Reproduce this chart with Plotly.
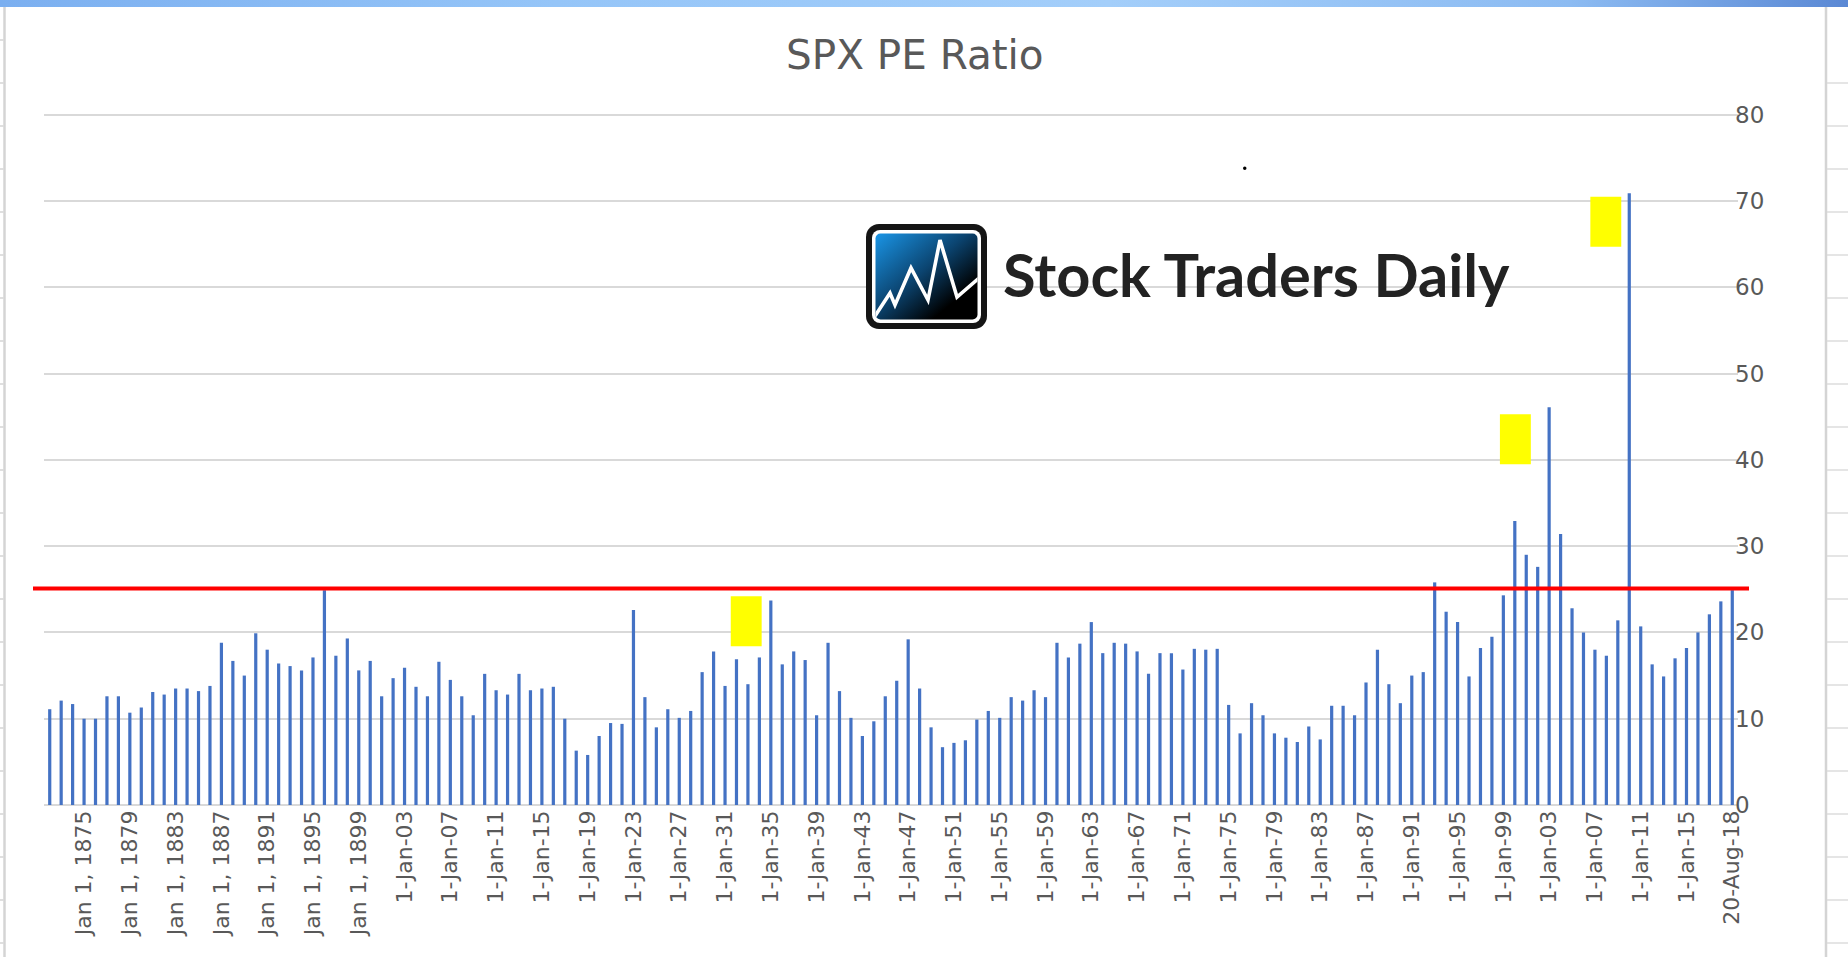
import base64
import plotly.graph_objects as go

# ---------------- data ----------------
YEARS = list(range(1872, 2019))  # Jan 1 of each year, then the Aug-2018 reading

PE_VALUES = [
    11.1, 12.1, 11.7, 10.0, 10.0, 12.6, 12.6, 10.7, 11.3, 13.1,
    12.8, 13.5, 13.5, 13.2, 13.8, 18.8, 16.7, 15.0, 19.9, 18.0,
    16.4, 16.1, 15.6, 17.1, 24.9, 17.3, 19.3, 15.6, 16.7, 12.6,
    14.7, 15.9, 13.7, 12.6, 16.6, 14.5, 12.6, 10.4, 15.2, 13.3,
    12.8, 15.2, 13.3, 13.5, 13.7, 10.0, 6.3, 5.8, 8.0, 9.5,
    9.4, 22.6, 12.5, 9.0, 11.1, 10.1, 10.9, 15.4, 17.8, 13.8,
    16.9, 14.0, 17.1, 23.7, 16.3, 17.8, 16.8, 10.4, 18.8, 13.2,
    10.1, 8.0, 9.7, 12.6, 14.4, 19.2, 13.5, 9.0, 6.7, 7.2,
    7.5, 9.9, 10.9, 10.1, 12.5, 12.1, 13.3, 12.5, 18.8, 17.1,
    18.7, 21.2, 17.6, 18.8, 18.7, 17.8, 15.2, 17.6, 17.6, 15.7,
    18.1, 18.0, 18.1, 11.6, 8.3, 11.8, 10.4, 8.3, 7.8, 7.3,
    9.1, 7.6, 11.5, 11.5, 10.4, 14.2, 18.0, 14.0, 11.8, 15.0,
    15.4, 25.8, 22.4, 21.2, 14.9, 18.2, 19.5, 24.3, 32.9, 29.0,
    27.6, 46.1, 31.4, 22.8, 20.0, 18.0, 17.3, 21.4, 70.9, 20.7,
    16.3, 14.9, 17.0, 18.2, 20.0, 22.1, 23.6, 24.9,
]

TICK_LABELS = [
    "Jan 1, 1875", "Jan 1, 1879", "Jan 1, 1883", "Jan 1, 1887", "Jan 1, 1891",
    "Jan 1, 1895", "Jan 1, 1899", "1-Jan-03", "1-Jan-07", "1-Jan-11",
    "1-Jan-15", "1-Jan-19", "1-Jan-23", "1-Jan-27", "1-Jan-31", "1-Jan-35",
    "1-Jan-39", "1-Jan-43", "1-Jan-47", "1-Jan-51", "1-Jan-55", "1-Jan-59",
    "1-Jan-63", "1-Jan-67", "1-Jan-71", "1-Jan-75", "1-Jan-79", "1-Jan-83",
    "1-Jan-87", "1-Jan-91", "1-Jan-95", "1-Jan-99", "1-Jan-03", "1-Jan-07",
    "1-Jan-11", "1-Jan-15", "20-Aug-18",
]

Y_TICKS = [0, 10, 20, 30, 40, 50, 60, 70, 80]
Y_MAX = 80.2                    # a hair above 80 so the 80 gridline is drawn
REFERENCE_LEVEL = 25.1          # red horizontal line
# highlighted boxes: (category index from, to, value from, to)
HIGHLIGHTS = [(59.5, 62.2, 18.4, 24.2), (126.7, 129.4, 39.5, 45.3), (134.6, 137.3, 64.7, 70.5)]

# category names (the tick labels are a subset of these)
CATEGORIES = [("Jan 1, %d" % y) if y < 1900 else ("1-Jan-%02d" % (y % 100)) for y in YEARS]
CATEGORIES.append("20-Aug-18")
# make duplicated 2-digit names unique (1903 vs 2003 ...) with invisible suffix
seen = {}
CAT_IDS = []
for c in CATEGORIES:
    n = seen.get(c, 0)
    seen[c] = n + 1
    CAT_IDS.append(c + ("\u200b" * n))
tick_ids = []
seen2 = {}
for lab in TICK_LABELS:
    n = seen2.get(lab, 0)
    seen2[lab] = n + 1
    tick_ids.append(lab + ("\u200b" * n))

# ---------------- geometry helpers (page pixels -> paper) ----------------
W, H = 1848, 957
L, R, T, B = 44, 1738, 113, 805


def px(p):
    return (p - L) / (R - L)


def py(p):
    return (B - p) / (B - T)


fig = go.Figure()
fig.add_trace(go.Bar(
    x=CAT_IDS, y=PE_VALUES, marker=dict(color="#4472C4", line=dict(width=0)),
    hoverinfo="x+y", showlegend=False,
))

shapes = []
# red reference line
shapes.append(dict(type="line", xref="paper", yref="y", x0=px(33), x1=px(1749),
                   y0=REFERENCE_LEVEL, y1=REFERENCE_LEVEL,
                   line=dict(color="#FF0000", width=4), layer="above"))
# yellow highlight boxes
for x0, x1, y0, y1 in HIGHLIGHTS:
    shapes.append(dict(type="rect", xref="x", yref="y", x0=x0, x1=x1, y0=y0, y1=y1,
                       fillcolor="#FFFF00", line=dict(width=0), layer="above"))
# tiny dot
shapes.append(dict(type="circle", xref="paper", yref="paper",
                   x0=px(1243), x1=px(1246.5), y0=py(170), y1=py(166.5),
                   fillcolor="#000000", line=dict(width=0)))
# spreadsheet borders around the chart
shapes.append(dict(type="line", xref="paper", yref="paper", x0=px(4.5), x1=px(4.5),
                   y0=py(7), y1=py(957), line=dict(color="#D4D4D4", width=2.5)))
shapes.append(dict(type="line", xref="paper", yref="paper", x0=px(1826), x1=px(1826),
                   y0=py(7), y1=py(957), line=dict(color="#D4D4D4", width=2.5)))
row = 40.0
while row < 957:
    shapes.append(dict(type="line", xref="paper", yref="paper", x0=px(0), x1=px(3.5),
                       y0=py(row), y1=py(row), line=dict(color="#D4D4D4", width=1.5)))
    if row > 60:
        shapes.append(dict(type="line", xref="paper", yref="paper", x0=px(1827), x1=px(1848),
                           y0=py(row), y1=py(row), line=dict(color="#DCDCDC", width=1.5)))
    row += 43.0

# ---------------- images: window band and logo icon ----------------
band_svg = (
    '<svg xmlns="http://www.w3.org/2000/svg" width="1848" height="7" viewBox="0 0 1848 7" preserveAspectRatio="none">'
    '<defs><linearGradient id="b" x1="0" y1="0" x2="1" y2="0">'
    '<stop offset="0" stop-color="#7BAFF0"/><stop offset="0.3" stop-color="#95C5F8"/>'
    '<stop offset="0.6" stop-color="#A3CEFA"/><stop offset="0.85" stop-color="#8CBBF2"/>'
    '<stop offset="1" stop-color="#5A88D4"/></linearGradient></defs>'
    '<rect x="0" y="0" width="1848" height="7" fill="url(#b)"/></svg>'
)
icon_svg = (
    '<svg xmlns="http://www.w3.org/2000/svg" width="121" height="105" viewBox="0 0 121 105">'
    '<defs><linearGradient id="g" x1="0" y1="0" x2="1" y2="1">'
    '<stop offset="0" stop-color="#1A95E6"/><stop offset="0.45" stop-color="#0B4470"/>'
    '<stop offset="0.78" stop-color="#000000"/><stop offset="1" stop-color="#000000"/></linearGradient>'
    '<clipPath id="c"><rect x="9.5" y="9.5" width="102" height="86" rx="5"/></clipPath></defs>'
    '<rect x="0" y="0" width="121" height="105" rx="13" fill="#151515"/>'
    '<rect x="6" y="6" width="109" height="93" rx="8" fill="#FFFFFF"/>'
    '<rect x="9.5" y="9.5" width="102" height="86" rx="5" fill="url(#g)"/>'
    '<polyline clip-path="url(#c)" points="9,92 24,69 29,81 45,44 62,76 74,16 91,73 113,54" '
    'fill="none" stroke="#FFFFFF" stroke-width="3.6" stroke-linejoin="miter"/></svg>'
)


def svg_uri(s):
    return "data:image/svg+xml;base64," + base64.b64encode(s.encode("utf-8")).decode("ascii")


images = [
    dict(source=svg_uri(band_svg), xref="paper", yref="paper", x=px(0), y=py(0),
         sizex=(W) / (R - L), sizey=7 / (B - T), xanchor="left", yanchor="top",
         sizing="stretch", layer="above"),
    dict(source=svg_uri(icon_svg), xref="paper", yref="paper", x=px(866), y=py(224),
         sizex=121 / (R - L), sizey=105 / (B - T), xanchor="left", yanchor="top",
         sizing="stretch", layer="above"),
]

annotations = [
    dict(text="SPX PE Ratio", xref="paper", yref="paper", x=px(915), y=py(55),
         xanchor="center", yanchor="middle", showarrow=False,
         font=dict(family="DejaVu Sans", size=40.5, color="#595959")),
    dict(text="<b>Stock Traders Daily</b>", xref="paper", yref="paper", x=px(1001), y=py(274),
         xanchor="left", yanchor="middle", showarrow=False,
         font=dict(family="Lato", size=59.5, color="#222222")),
]

fig.update_layout(
    width=W, height=H,
    margin=dict(l=L, r=W - R, t=T, b=H - B, autoexpand=False),
    paper_bgcolor="#FFFFFF", plot_bgcolor="#FFFFFF",
    bargap=0.72,
    shapes=shapes, images=images, annotations=annotations,
    xaxis=dict(
        type="category", categoryorder="array", categoryarray=CAT_IDS,
        tickmode="array", tickvals=tick_ids, ticktext=TICK_LABELS,
        tickangle=-90, ticks="", showgrid=False, showline=False, zeroline=False,
        tickfont=dict(family="DejaVu Sans", size=22, color="#595959"),
        ticklabelstandoff=0, range=[-0.5, len(CAT_IDS) - 0.5], fixedrange=True,
    ),
    yaxis=dict(
        side="right", range=[0, Y_MAX], tickmode="array", tickvals=Y_TICKS,
        showgrid=True, gridcolor="#D9D9D9", gridwidth=2,
        zeroline=True, zerolinecolor="#D9D9D9", zerolinewidth=2,
        showline=False, ticks="",
        tickfont=dict(family="DejaVu Sans", size=23, color="#595959"),
        ticklabelstandoff=-4, fixedrange=True,
    ),
    font=dict(family="DejaVu Sans"),
)

fig.write_html(
    "out.html",
    config={"displayModeBar": False},
    post_script="document.body.style.margin='0';document.documentElement.style.overflow='hidden';",
)
